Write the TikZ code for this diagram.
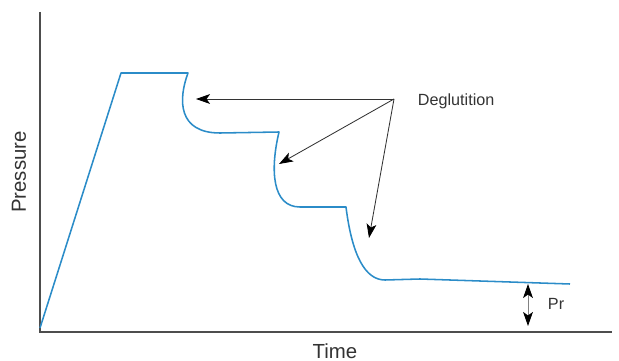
\documentclass[tikz,border=0pt]{standalone}
\usepackage{fontspec}
\setmainfont{Liberation Sans}
\usepackage{xcolor}
\usetikzlibrary{arrows.meta}
\definecolor{PCurve}{HTML}{2B8CC8}
\definecolor{PAxis}{HTML}{4D4D4D}
\definecolor{PArrow}{HTML}{333333}
\tikzset{
  curve/.style={PCurve,line width=1.1pt,line join=round},
  axis/.style={PAxis,line width=1.2pt},
  pointer/.style={PArrow,line width=0.6pt,-{Stealth[length=10pt,width=7pt,inset=2.5pt,black]}},
}

\begin{document}
\begin{tikzpicture}[x=0.025cm,y=-0.025cm]
\path[use as bounding box] (0,0) rectangle (619,361);
% axes
\coordinate (ytop) at (40,12);
\coordinate (orig) at (40,332);
\coordinate (xend) at (612,332);
\draw[axis] (ytop) -- (orig) -- (xend);
\node[rotate=90,text=PArrow] (ylab) at (19,172) {\fontsize{14.5}{17}\selectfont Pressure};
\node[text=PArrow] (xlab) at (335,351) {\fontsize{14.5}{17}\selectfont Time};
% pressure trace
\draw[curve] (40,328) -- (121,73) -- (188,73)
  .. controls (178,100) and (178,133) .. (220,133) -- (279,132)
  .. controls (270,170) and (272,207) .. (300,207) -- (346,207)
  .. controls (352,255) and (365,280) .. (385,280) -- (420,279) -- (570,284);
% deglutition pointers
\node[anchor=west,text=PArrow] (degl) at (413,101) {\fontsize{11.5}{14}\selectfont Deglutition};
\coordinate (src) at (394,99);
\coordinate (dip1) at (196,99);
\coordinate (dip2) at (279,164);
\coordinate (dip3) at (369,238);
\draw[pointer] (src) -- (dip1);
\draw[pointer] (src) -- (dip2);
\draw[pointer] (src) -- (dip3);
% residual pressure
\coordinate (prtop) at (528,284);
\coordinate (prbot) at (528,326);
\draw[PAxis!70,line width=0.6pt,{Stealth[length=10pt,width=7pt,inset=2.5pt,black]}-{Stealth[length=10pt,width=7pt,inset=2.5pt,black]}] (prtop) -- (prbot);
\node[anchor=west,text=PArrow] (pr) at (543,304) {\fontsize{11.5}{14}\selectfont Pr};
\end{tikzpicture}
\end{document}
